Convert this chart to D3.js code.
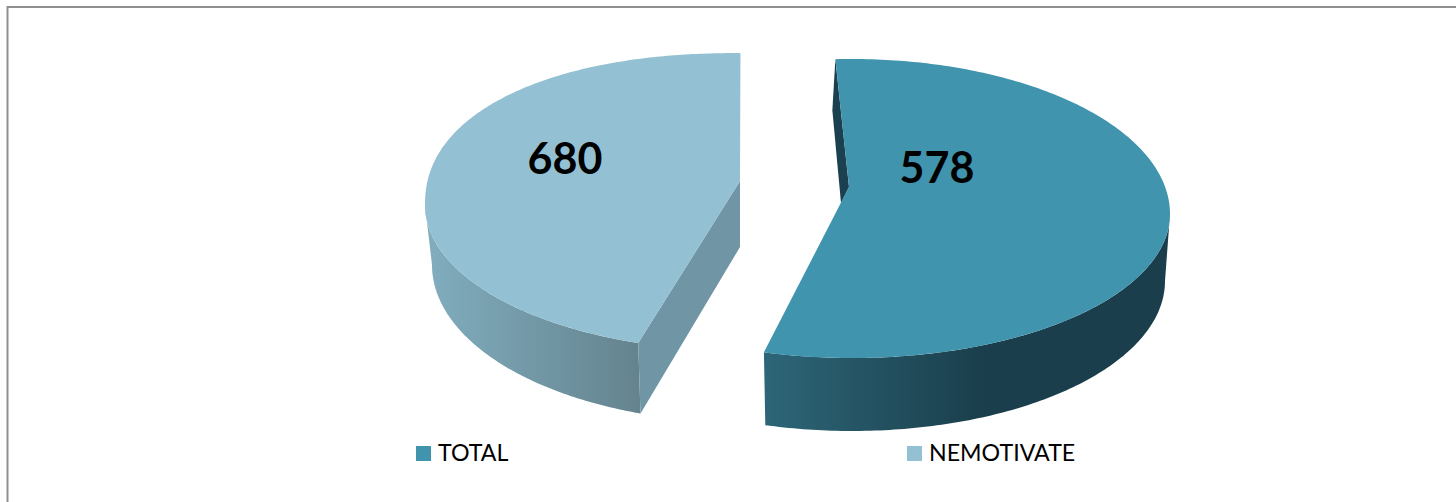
<!DOCTYPE html>
<html>
<head>
<meta charset="utf-8">
<script src="https://cdn.jsdelivr.net/npm/d3@7/dist/d3.min.js"></script>
<style>
html,body{margin:0;padding:0;background:#fff;overflow:hidden}
svg{display:block}
text{font-family:Lato,"Open Sans",sans-serif}
</style>
</head>
<body>
<script>
// Data
const categories = ["TOTAL", "NEMOTIVATE"];
const labelValues = [578, 680];              // printed data labels
const drawnShares = [55.3, 44.7];            // slice sizes as actually drawn in the picture (%)
const topColors = ["#4094ae", "#93c1d3"];

// Layout
const W = 1456, H = 502;
const startAngle = -3 * Math.PI / 180;
const layouts = [
  {cx:852, cy:214, rx:318, ryT:155, ryB:144, nT:2, rot:0,
   bcx:852, bcy:281, brx:313, bry:150, apex:[849,187],
   wall:["#2d6678","#1a3e4b"], wallX:[764,985], side:"#1b4050",
   label:[937,183], backDepth:51},
  {cx:741, cy:205, rx:316, ryT:152, ryB:146, nT:2.2, rot:2.9*Math.PI/180,
   bcx:741, bcy:265, brx:309, bry:157, apex:[740,181],
   wall:["#80acbd","#64838e"], wallX:[432,640], side:"#7095a5",
   label:[565,174], depth:66}
];

const svg = d3.select("body").append("svg").attr("width",W).attr("height",H);
const defs = svg.append("defs");

// frame (top and left rules only are visible in the crop)
svg.append("path").attr("d",`M7.5,${H}V7H${W}`).attr("fill","none").attr("stroke","#8f8f8f").attr("stroke-width",2);

const pie = d3.pie().sort(null).value(d=>d).startAngle(startAngle).endAngle(startAngle+2*Math.PI);
const arcs = pie(drawnShares);
const line = d3.line();

function topPt(L,a){
  const s=Math.sin(a), c=Math.cos(a);
  if(c>0){
    const y=Math.pow(Math.max(0,1-Math.pow(Math.abs(s),L.nT)),1/L.nT);
    return [L.cx+L.rx*s, L.cy-L.ryT*y];
  }
  return [L.cx+L.rx*s, L.cy-L.ryB*c];
}
function botPt(L,a){
  return [L.bcx+L.brx*Math.sin(a), L.bcy-L.bry*Math.cos(a)];
}
function samples(a0,a1,n=120){return d3.range(n+1).map(i=>a0+(a1-a0)*i/n);}

const g = svg.append("g");
arcs.forEach((d,i)=>{
  const L=layouts[i];
  const a0=d.startAngle+L.rot, a1=d.endAngle+L.rot;
  // gradient of the outer wall
  const gid="wall"+i;
  const lg=defs.append("linearGradient").attr("id",gid).attr("gradientUnits","userSpaceOnUse")
    .attr("x1",L.wallX[0]).attr("x2",L.wallX[1]).attr("y1",0).attr("y2",0);
  lg.append("stop").attr("offset",0).attr("stop-color",L.wall[0]);
  lg.append("stop").attr("offset",1).attr("stop-color",L.wall[1]);

  const front0=Math.max(a0,Math.PI/2), front1=Math.min(a1,Math.PI*1.5);
  // outer wall: visible lower rim
  const wallPts=[...samples(front0,front1).map(a=>botPt(L,a)),...samples(front1,front0).map(a=>topPt(L,a))];
  g.append("path").attr("d",line(wallPts)+"Z").attr("fill",`url(#${gid})`);

  if(i===1){
    // cut face of the left slice, seen from the front
    const cornerTop=topPt(L,a0), cornerBot=botPt(L,a0);
    g.append("path").attr("d",line([L.apex,cornerTop,cornerBot,[L.apex[0],L.apex[1]+L.depth]])+"Z").attr("fill",L.side);
  } else {
    // inner cut face of the right slice, showing as a thin sliver at the back
    const back=topPt(L,a0);
    g.append("path").attr("d",line([back,[back[0]-3,back[1]+L.backDepth],[L.apex[0]-8,L.apex[1]+16],L.apex])+"Z").attr("fill",L.side);
  }
  // top face
  const topPts=[L.apex,...samples(a0,a1,240).map(a=>topPt(L,a))];
  g.append("path").attr("d",line(topPts)+"Z").attr("fill",topColors[i]);

  g.append("text").attr("x",L.label[0]).attr("y",L.label[1]).attr("text-anchor","middle")
    .attr("font-size",43).attr("font-weight",700).attr("fill","#000").text(labelValues[i]);
});

// Legend
const legendX=d3.scalePoint().domain(categories).range([416,907]);
const lg=svg.append("g").selectAll("g").data(categories).join("g").attr("transform",d=>`translate(${legendX(d)},446)`);
lg.append("rect").attr("width",15).attr("height",15).attr("fill",(d,i)=>topColors[i]);
lg.append("text").attr("x",22).attr("y",15).attr("font-size",23.2).attr("fill","#000").text(d=>d);
</script>
</body>
</html>
